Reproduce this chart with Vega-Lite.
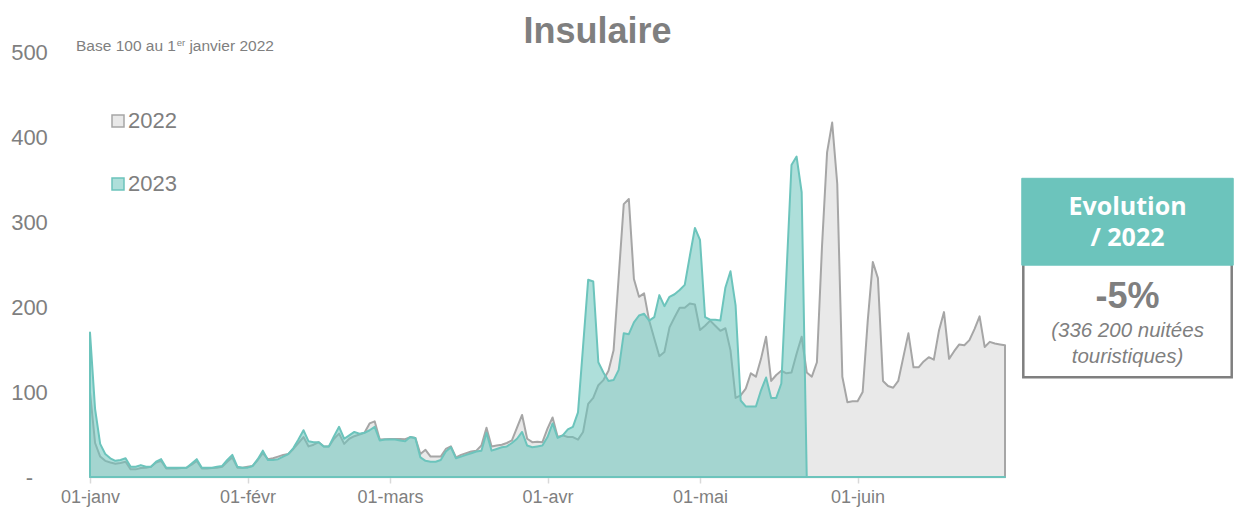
{
  "$schema": "https://vega.github.io/schema/vega-lite/v6.json",
  "width": 915,
  "height": 425,
  "autosize": {"type": "none"},
  "padding": {"left": 90, "top": 52, "right": 232, "bottom": 36},
  "background": "white",
  "title": {"text": "Insulaire", "fontSize": 36, "fontWeight": "bold", "color": "#7f7f7f", "font": "Liberation Sans", "anchor": "middle", "dx": 50, "dy": 21, "offset": 8},
  "config": {
    "view": {"stroke": null},
    "font": "Liberation Sans",
    "legend": {"orient": "none", "legendX": 17, "legendY": 58, "direction": "vertical", "symbolType": "square", "symbolSize": 144, "symbolStrokeWidth": 1.5, "labelFontSize": 22, "labelColor": "#7f7f7f", "labelFont": "Liberation Sans", "rowPadding": 41, "labelOffset": -1, "padding": 0}
  },
  "datasets": {
    "series": [
      {"day":0,"year":"2022","value":100},{"day":1,"year":"2022","value":40},{"day":2,"year":"2022","value":24},{"day":3,"year":"2022","value":19},{"day":4,"year":"2022","value":17},{"day":5,"year":"2022","value":15.5},{"day":6,"year":"2022","value":16.5},{"day":7,"year":"2022","value":18},{"day":8,"year":"2022","value":9},{"day":9,"year":"2022","value":9},
      {"day":10,"year":"2022","value":10.5},{"day":11,"year":"2022","value":11},{"day":12,"year":"2022","value":12},{"day":13,"year":"2022","value":17},{"day":14,"year":"2022","value":19},{"day":15,"year":"2022","value":10},{"day":16,"year":"2022","value":10},{"day":17,"year":"2022","value":10},{"day":18,"year":"2022","value":10.5},{"day":19,"year":"2022","value":11},
      {"day":20,"year":"2022","value":14.5},{"day":21,"year":"2022","value":19},{"day":22,"year":"2022","value":10},{"day":23,"year":"2022","value":10},{"day":24,"year":"2022","value":10.5},{"day":25,"year":"2022","value":11},{"day":26,"year":"2022","value":12},{"day":27,"year":"2022","value":18},{"day":28,"year":"2022","value":23},{"day":29,"year":"2022","value":11},
      {"day":30,"year":"2022","value":11},{"day":31,"year":"2022","value":12},{"day":32,"year":"2022","value":13},{"day":33,"year":"2022","value":20},{"day":34,"year":"2022","value":28},{"day":35,"year":"2022","value":21},{"day":36,"year":"2022","value":22},{"day":37,"year":"2022","value":24},{"day":38,"year":"2022","value":26},{"day":39,"year":"2022","value":27},
      {"day":40,"year":"2022","value":33},{"day":41,"year":"2022","value":40},{"day":42,"year":"2022","value":47},{"day":43,"year":"2022","value":36},{"day":44,"year":"2022","value":38},{"day":45,"year":"2022","value":41},{"day":46,"year":"2022","value":36},{"day":47,"year":"2022","value":36},{"day":48,"year":"2022","value":45},{"day":49,"year":"2022","value":51},
      {"day":50,"year":"2022","value":39},{"day":51,"year":"2022","value":45},{"day":52,"year":"2022","value":48},{"day":53,"year":"2022","value":50},{"day":54,"year":"2022","value":52},{"day":55,"year":"2022","value":63},{"day":56,"year":"2022","value":65.5},{"day":57,"year":"2022","value":44},{"day":58,"year":"2022","value":44.5},{"day":59,"year":"2022","value":44.7},
      {"day":60,"year":"2022","value":44.7},{"day":61,"year":"2022","value":44.7},{"day":62,"year":"2022","value":44.5},{"day":63,"year":"2022","value":47},{"day":64,"year":"2022","value":46},{"day":65,"year":"2022","value":27},{"day":66,"year":"2022","value":32},{"day":67,"year":"2022","value":24},{"day":68,"year":"2022","value":24},{"day":69,"year":"2022","value":24},
      {"day":70,"year":"2022","value":33},{"day":71,"year":"2022","value":36},{"day":72,"year":"2022","value":23},{"day":73,"year":"2022","value":26},{"day":74,"year":"2022","value":28},{"day":75,"year":"2022","value":30},{"day":76,"year":"2022","value":31},{"day":77,"year":"2022","value":37},{"day":78,"year":"2022","value":58},{"day":79,"year":"2022","value":36},
      {"day":80,"year":"2022","value":37},{"day":81,"year":"2022","value":38},{"day":82,"year":"2022","value":40},{"day":83,"year":"2022","value":43},{"day":84,"year":"2022","value":58},{"day":85,"year":"2022","value":73},{"day":86,"year":"2022","value":45},{"day":87,"year":"2022","value":41},{"day":88,"year":"2022","value":41.5},{"day":89,"year":"2022","value":41},
      {"day":90,"year":"2022","value":57},{"day":91,"year":"2022","value":70},{"day":92,"year":"2022","value":47},{"day":93,"year":"2022","value":49},{"day":94,"year":"2022","value":47},{"day":95,"year":"2022","value":47},{"day":96,"year":"2022","value":44},{"day":97,"year":"2022","value":53},{"day":98,"year":"2022","value":86},{"day":99,"year":"2022","value":93},
      {"day":100,"year":"2022","value":108},{"day":101,"year":"2022","value":114},{"day":102,"year":"2022","value":125},{"day":103,"year":"2022","value":149},{"day":104,"year":"2022","value":235},{"day":105,"year":"2022","value":321},{"day":106,"year":"2022","value":327},{"day":107,"year":"2022","value":233},{"day":108,"year":"2022","value":212},{"day":109,"year":"2022","value":216},
      {"day":110,"year":"2022","value":184},{"day":111,"year":"2022","value":163},{"day":112,"year":"2022","value":142},{"day":113,"year":"2022","value":147},{"day":114,"year":"2022","value":176},{"day":115,"year":"2022","value":188},{"day":116,"year":"2022","value":199},{"day":117,"year":"2022","value":199},{"day":118,"year":"2022","value":204},{"day":119,"year":"2022","value":203},
      {"day":120,"year":"2022","value":173},{"day":121,"year":"2022","value":178},{"day":122,"year":"2022","value":184},{"day":123,"year":"2022","value":178},{"day":124,"year":"2022","value":172},{"day":125,"year":"2022","value":175},{"day":126,"year":"2022","value":149},{"day":127,"year":"2022","value":93},{"day":128,"year":"2022","value":96},{"day":129,"year":"2022","value":104},
      {"day":130,"year":"2022","value":122},{"day":131,"year":"2022","value":118},{"day":132,"year":"2022","value":139},{"day":133,"year":"2022","value":165},{"day":134,"year":"2022","value":113},{"day":135,"year":"2022","value":120},{"day":136,"year":"2022","value":125},{"day":137,"year":"2022","value":122},{"day":138,"year":"2022","value":123},{"day":139,"year":"2022","value":145},
      {"day":140,"year":"2022","value":165},{"day":141,"year":"2022","value":123},{"day":142,"year":"2022","value":118},{"day":143,"year":"2022","value":135},{"day":144,"year":"2022","value":271},{"day":145,"year":"2022","value":382},{"day":146,"year":"2022","value":417},{"day":147,"year":"2022","value":345},{"day":148,"year":"2022","value":118},{"day":149,"year":"2022","value":88},
      {"day":150,"year":"2022","value":89},{"day":151,"year":"2022","value":89},{"day":152,"year":"2022","value":100},{"day":153,"year":"2022","value":184},{"day":154,"year":"2022","value":253},{"day":155,"year":"2022","value":234},{"day":156,"year":"2022","value":113},{"day":157,"year":"2022","value":107},{"day":158,"year":"2022","value":105},{"day":159,"year":"2022","value":113},
      {"day":160,"year":"2022","value":141},{"day":161,"year":"2022","value":169},{"day":162,"year":"2022","value":129},{"day":163,"year":"2022","value":129},{"day":164,"year":"2022","value":136},{"day":165,"year":"2022","value":141},{"day":166,"year":"2022","value":138},{"day":167,"year":"2022","value":172},{"day":168,"year":"2022","value":194},{"day":169,"year":"2022","value":139},
      {"day":170,"year":"2022","value":148},{"day":171,"year":"2022","value":156},{"day":172,"year":"2022","value":155},{"day":173,"year":"2022","value":161},{"day":174,"year":"2022","value":174},{"day":175,"year":"2022","value":189},{"day":176,"year":"2022","value":153},{"day":177,"year":"2022","value":159},{"day":178,"year":"2022","value":157},{"day":179,"year":"2022","value":156},
      {"day":180,"year":"2022","value":155},
      {"day":0,"year":"2023","value":170},{"day":1,"year":"2023","value":80},{"day":2,"year":"2023","value":39},{"day":3,"year":"2023","value":27},{"day":4,"year":"2023","value":22},{"day":5,"year":"2023","value":19},{"day":6,"year":"2023","value":20},{"day":7,"year":"2023","value":22},{"day":8,"year":"2023","value":12},{"day":9,"year":"2023","value":12},
      {"day":10,"year":"2023","value":14},{"day":11,"year":"2023","value":12},{"day":12,"year":"2023","value":12},{"day":13,"year":"2023","value":18},{"day":14,"year":"2023","value":21},{"day":15,"year":"2023","value":11},{"day":16,"year":"2023","value":11},{"day":17,"year":"2023","value":11},{"day":18,"year":"2023","value":11},{"day":19,"year":"2023","value":11},
      {"day":20,"year":"2023","value":16},{"day":21,"year":"2023","value":21},{"day":22,"year":"2023","value":11},{"day":23,"year":"2023","value":11},{"day":24,"year":"2023","value":11},{"day":25,"year":"2023","value":12},{"day":26,"year":"2023","value":13},{"day":27,"year":"2023","value":20},{"day":28,"year":"2023","value":26},{"day":29,"year":"2023","value":12},
      {"day":30,"year":"2023","value":11},{"day":31,"year":"2023","value":11},{"day":32,"year":"2023","value":13},{"day":33,"year":"2023","value":21},{"day":34,"year":"2023","value":31},{"day":35,"year":"2023","value":20},{"day":36,"year":"2023","value":20},{"day":37,"year":"2023","value":21},{"day":38,"year":"2023","value":24},{"day":39,"year":"2023","value":27},
      {"day":40,"year":"2023","value":34},{"day":41,"year":"2023","value":44},{"day":42,"year":"2023","value":55},{"day":43,"year":"2023","value":42},{"day":44,"year":"2023","value":41},{"day":45,"year":"2023","value":41},{"day":46,"year":"2023","value":36},{"day":47,"year":"2023","value":36},{"day":48,"year":"2023","value":48},{"day":49,"year":"2023","value":59},
      {"day":50,"year":"2023","value":45},{"day":51,"year":"2023","value":49},{"day":52,"year":"2023","value":53},{"day":53,"year":"2023","value":51},{"day":54,"year":"2023","value":52},{"day":55,"year":"2023","value":55},{"day":56,"year":"2023","value":59},{"day":57,"year":"2023","value":43},{"day":58,"year":"2023","value":44},{"day":59,"year":"2023","value":44},
      {"day":60,"year":"2023","value":44},{"day":61,"year":"2023","value":43},{"day":62,"year":"2023","value":42},{"day":63,"year":"2023","value":47},{"day":64,"year":"2023","value":46},{"day":65,"year":"2023","value":23},{"day":66,"year":"2023","value":19},{"day":67,"year":"2023","value":18},{"day":68,"year":"2023","value":18},{"day":69,"year":"2023","value":20},
      {"day":70,"year":"2023","value":30},{"day":71,"year":"2023","value":35},{"day":72,"year":"2023","value":22},{"day":73,"year":"2023","value":24},{"day":74,"year":"2023","value":26},{"day":75,"year":"2023","value":28},{"day":76,"year":"2023","value":30},{"day":77,"year":"2023","value":31},{"day":78,"year":"2023","value":52},{"day":79,"year":"2023","value":31},
      {"day":80,"year":"2023","value":33},{"day":81,"year":"2023","value":35},{"day":82,"year":"2023","value":36},{"day":83,"year":"2023","value":40},{"day":84,"year":"2023","value":45},{"day":85,"year":"2023","value":53},{"day":86,"year":"2023","value":37},{"day":87,"year":"2023","value":35},{"day":88,"year":"2023","value":36},{"day":89,"year":"2023","value":37},
      {"day":90,"year":"2023","value":47},{"day":91,"year":"2023","value":63},{"day":92,"year":"2023","value":46},{"day":93,"year":"2023","value":49},{"day":94,"year":"2023","value":56},{"day":95,"year":"2023","value":59},{"day":96,"year":"2023","value":76},{"day":97,"year":"2023","value":154},{"day":98,"year":"2023","value":232},{"day":99,"year":"2023","value":230},
      {"day":100,"year":"2023","value":135},{"day":101,"year":"2023","value":123},{"day":102,"year":"2023","value":113},{"day":103,"year":"2023","value":114},{"day":104,"year":"2023","value":126},{"day":105,"year":"2023","value":169},{"day":106,"year":"2023","value":168},{"day":107,"year":"2023","value":182},{"day":108,"year":"2023","value":190},{"day":109,"year":"2023","value":192},
      {"day":110,"year":"2023","value":184},{"day":111,"year":"2023","value":188},{"day":112,"year":"2023","value":214},{"day":113,"year":"2023","value":201},{"day":114,"year":"2023","value":212},{"day":115,"year":"2023","value":215},{"day":116,"year":"2023","value":220},{"day":117,"year":"2023","value":226},{"day":118,"year":"2023","value":260},{"day":119,"year":"2023","value":293},
      {"day":120,"year":"2023","value":279},{"day":121,"year":"2023","value":188},{"day":122,"year":"2023","value":185},{"day":123,"year":"2023","value":185},{"day":124,"year":"2023","value":184},{"day":125,"year":"2023","value":223},{"day":126,"year":"2023","value":242},{"day":127,"year":"2023","value":202},{"day":128,"year":"2023","value":90},{"day":129,"year":"2023","value":83},
      {"day":130,"year":"2023","value":83},{"day":131,"year":"2023","value":83},{"day":132,"year":"2023","value":102},{"day":133,"year":"2023","value":117},{"day":134,"year":"2023","value":93},{"day":135,"year":"2023","value":93},{"day":136,"year":"2023","value":110},{"day":137,"year":"2023","value":238},{"day":138,"year":"2023","value":367},{"day":139,"year":"2023","value":377},
      {"day":140,"year":"2023","value":335},{"day":141,"year":"2023","value":0},{"day":142,"year":"2023","value":0},{"day":143,"year":"2023","value":0},{"day":144,"year":"2023","value":0},{"day":145,"year":"2023","value":0},{"day":146,"year":"2023","value":0},{"day":147,"year":"2023","value":0},{"day":148,"year":"2023","value":0},{"day":149,"year":"2023","value":0},
      {"day":150,"year":"2023","value":0},{"day":151,"year":"2023","value":0},{"day":152,"year":"2023","value":0},{"day":153,"year":"2023","value":0},{"day":154,"year":"2023","value":0},{"day":155,"year":"2023","value":0},{"day":156,"year":"2023","value":0},{"day":157,"year":"2023","value":0},{"day":158,"year":"2023","value":0},{"day":159,"year":"2023","value":0},
      {"day":160,"year":"2023","value":0},{"day":161,"year":"2023","value":0},{"day":162,"year":"2023","value":0},{"day":163,"year":"2023","value":0},{"day":164,"year":"2023","value":0},{"day":165,"year":"2023","value":0},{"day":166,"year":"2023","value":0},{"day":167,"year":"2023","value":0},{"day":168,"year":"2023","value":0},{"day":169,"year":"2023","value":0},
      {"day":170,"year":"2023","value":0},{"day":171,"year":"2023","value":0},{"day":172,"year":"2023","value":0},{"day":173,"year":"2023","value":0},{"day":174,"year":"2023","value":0},{"day":175,"year":"2023","value":0},{"day":176,"year":"2023","value":0},{"day":177,"year":"2023","value":0},{"day":178,"year":"2023","value":0},{"day":179,"year":"2023","value":0},
      {"day":180,"year":"2023","value":0}
    ]
  },
  "layer": [
    {
      "data": {"name": "series"},
      "mark": {"type": "area", "fillOpacity": 0.55, "strokeWidth": 2, "strokeJoin": "round", "orient": "vertical"},
      "encoding": {
        "x": {"field": "day", "type": "quantitative", "scale": {"domain": [0, 180], "nice": false, "zero": false},
          "axis": {"title": null, "values": [0, 31, 59, 90, 120, 151], "labelExpr": "datum.value == 0 ? '01-janv' : datum.value == 31 ? '01-févr' : datum.value == 59 ? '01-mars' : datum.value == 90 ? '01-avr' : datum.value == 120 ? '01-mai' : '01-juin'", "grid": false, "domainColor": "#d9d9d9", "domainWidth": 1.5, "tickColor": "#d9d9d9", "tickSize": 6, "tickWidth": 1.5, "labelFontSize": 18, "labelColor": "#7f7f7f", "labelFont": "Liberation Sans", "labelPadding": 5, "labelFlush": false, "labelOverlap": false}},
        "y": {"field": "value", "type": "quantitative", "stack": null, "scale": {"domain": [0, 500], "nice": false},
          "axis": {"title": null, "values": [0, 100, 200, 300, 400, 500], "labelExpr": "datum.value == 0 ? '-' : datum.label", "grid": false, "domain": false, "ticks": false, "tickSize": 0, "labelPadding": 61, "labelAlign": "center", "labelFontSize": 22, "labelColor": "#7f7f7f", "labelFont": "Liberation Sans"}},
        "fill": {"field": "year", "type": "nominal", "scale": {"domain": ["2022", "2023"], "range": ["#d7d7d7", "#6cc4bc"]},
          "legend": {"title": null, "encode": {"symbols": {"update": {"fillOpacity": {"value": 0.55}}}}}},
        "stroke": {"field": "year", "type": "nominal", "scale": {"domain": ["2022", "2023"], "range": ["#a6a6a6", "#6cc4bc"]}, "legend": {"title": null}}
      }
    },
    {
      "data": {"values": [{}]},
      "mark": {"type": "text", "align": "left", "baseline": "alphabetic", "fontSize": 15.5, "font": "Liberation Sans", "color": "#7f7f7f"},
      "encoding": {"x": {"datum": -2.75, "type": "quantitative", "scale": {"domain": [0, 180], "nice": false, "zero": false}}, "y": {"datum": 501.5, "type": "quantitative", "scale": {"domain": [0, 500], "nice": false}}, "text": {"value": "Base 100 au 1"}}
    },
    {
      "data": {"values": [{}]},
      "mark": {"type": "text", "align": "left", "baseline": "alphabetic", "fontSize": 9.5, "font": "Liberation Sans", "color": "#7f7f7f"},
      "encoding": {"x": {"datum": 17.08, "type": "quantitative", "scale": {"domain": [0, 180], "nice": false, "zero": false}}, "y": {"datum": 507, "type": "quantitative", "scale": {"domain": [0, 500], "nice": false}}, "text": {"value": "er"}}
    },
    {
      "data": {"values": [{}]},
      "mark": {"type": "text", "align": "left", "baseline": "alphabetic", "fontSize": 15.5, "font": "Liberation Sans", "color": "#7f7f7f"},
      "encoding": {"x": {"datum": 19.56, "type": "quantitative", "scale": {"domain": [0, 180], "nice": false, "zero": false}}, "y": {"datum": 501.5, "type": "quantitative", "scale": {"domain": [0, 500], "nice": false}}, "text": {"value": "janvier 2022"}}
    },
    {
      "data": {"values": [{}]},
      "mark": {"type": "rect", "fill": "white", "stroke": "#7f7f7f", "strokeWidth": 2.5},
      "encoding": {"x": {"datum": 183.6, "type": "quantitative", "scale": {"domain": [0, 180], "nice": false, "zero": false}}, "x2": {"datum": 224.6}, "y": {"datum": 251.4, "type": "quantitative", "scale": {"domain": [0, 500], "nice": false}}, "y2": {"datum": 117.3}}
    },
    {
      "data": {"values": [{}]},
      "mark": {"type": "rect", "fill": "#6cc4bc", "stroke": "#6cc4bc", "strokeWidth": 1},
      "encoding": {"x": {"datum": 183.3, "type": "quantitative", "scale": {"domain": [0, 180], "nice": false, "zero": false}}, "x2": {"datum": 224.9}, "y": {"datum": 351.4, "type": "quantitative", "scale": {"domain": [0, 500], "nice": false}}, "y2": {"datum": 249.2}}
    },
    {
      "data": {"values": [{}]},
      "mark": {"type": "text", "align": "center", "baseline": "middle", "fontSize": 25, "fontWeight": "bold", "font": "Open Sans", "color": "white"},
      "encoding": {"x": {"datum": 204.1, "type": "quantitative", "scale": {"domain": [0, 180], "nice": false, "zero": false}}, "y": {"datum": 318, "type": "quantitative", "scale": {"domain": [0, 500], "nice": false}}, "text": {"value": "Evolution"}}
    },
    {
      "data": {"values": [{}]},
      "mark": {"type": "text", "align": "center", "baseline": "middle", "fontSize": 25, "fontWeight": "bold", "font": "Open Sans", "color": "white"},
      "encoding": {"x": {"datum": 204.1, "type": "quantitative", "scale": {"domain": [0, 180], "nice": false, "zero": false}}, "y": {"datum": 280.8, "type": "quantitative", "scale": {"domain": [0, 500], "nice": false}}, "text": {"value": "/ 2022"}}
    },
    {
      "data": {"values": [{}]},
      "mark": {"type": "text", "align": "center", "baseline": "middle", "fontSize": 36, "fontWeight": "bold", "font": "Liberation Sans", "color": "#7f7f7f"},
      "encoding": {"x": {"datum": 204.1, "type": "quantitative", "scale": {"domain": [0, 180], "nice": false, "zero": false}}, "y": {"datum": 211.2, "type": "quantitative", "scale": {"domain": [0, 500], "nice": false}}, "text": {"value": "-5%"}}
    },
    {
      "data": {"values": [{}]},
      "mark": {"type": "text", "align": "center", "baseline": "middle", "fontSize": 20.5, "fontStyle": "italic", "font": "Liberation Sans", "color": "#7f7f7f"},
      "encoding": {"x": {"datum": 204.1, "type": "quantitative", "scale": {"domain": [0, 180], "nice": false, "zero": false}}, "y": {"datum": 171.8, "type": "quantitative", "scale": {"domain": [0, 500], "nice": false}}, "text": {"value": "(336 200 nuitées"}}
    },
    {
      "data": {"values": [{}]},
      "mark": {"type": "text", "align": "center", "baseline": "middle", "fontSize": 20.5, "fontStyle": "italic", "font": "Liberation Sans", "color": "#7f7f7f"},
      "encoding": {"x": {"datum": 204.1, "type": "quantitative", "scale": {"domain": [0, 180], "nice": false, "zero": false}}, "y": {"datum": 141.5, "type": "quantitative", "scale": {"domain": [0, 500], "nice": false}}, "text": {"value": "touristiques)"}}
    }
  ]
}
